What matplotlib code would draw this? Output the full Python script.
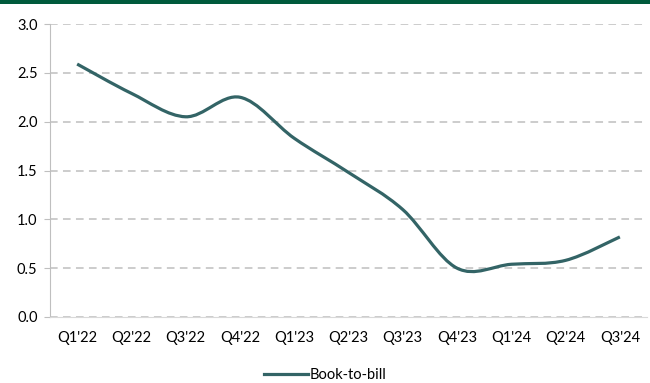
import matplotlib
matplotlib.use('Agg')
from matplotlib import pyplot as plt
from matplotlib.path import Path
from matplotlib.patches import PathPatch, Rectangle
from matplotlib.lines import Line2D
import numpy as np

# quarterly data
quarters = ["Q1'22", "Q2'22", "Q3'22", "Q4'22", "Q1'23", "Q2'23",
            "Q3'23", "Q4'23", "Q1'24", "Q2'24", "Q3'24"]
book_to_bill = [2.59, 2.29, 2.05, 2.25, 1.83, 1.48, 1.10, 0.50, 0.54, 0.58, 0.82]

line_color = '#336466'
plt.rcParams['font.family'] = ['Lato', 'DejaVu Sans']


def smooth_path(xs, ys, t=1/6):
    # cubic bezier through every point (catmull-rom style smoothing)
    pts = np.column_stack([xs, ys])
    n = len(pts)
    verts = [pts[0]]
    codes = [Path.MOVETO]
    for i in range(n - 1):
        p0 = pts[i - 1] if i > 0 else pts[i]
        p1, p2 = pts[i], pts[i + 1]
        p3 = pts[i + 2] if i + 2 < n else pts[i + 1]
        c1 = p1 + (p2 - p0) * t
        c2 = p2 - (p3 - p1) * t
        verts += [c1, c2, p2]
        codes += [Path.CURVE4] * 3
    return Path(verts, codes)


fig = plt.figure(figsize=(6.5, 3.83), dpi=100)
ax = fig.add_axes([50/650, 1 - 317/383, 597/650, 293/383])

x = np.arange(len(quarters))
ax.add_patch(PathPatch(smooth_path(x, book_to_bill), facecolor='none',
                       edgecolor=line_color, lw=2.3, capstyle='butt',
                       zorder=3))

ax.set_xlim(-0.5, len(quarters) - 0.5)
ax.set_ylim(0, 3.0)
ax.set_yticks(np.arange(0, 3.01, 0.5))
ax.set_yticklabels([f'{v:.1f}' for v in np.arange(0, 3.01, 0.5)])
ax.set_xticks(x)
ax.set_xticklabels(quarters)

ax.yaxis.grid(True, color='#bfbfbf', linestyle=(0, (5, 3.5)), lw=1.1)
ax.set_axisbelow(True)
for s in ['top', 'right']:
    ax.spines[s].set_visible(False)
ax.spines['left'].set_color('#bfbfbf')
ax.spines['bottom'].set_color('#d9d9d9')
ax.tick_params(axis='y', length=4, color='#bfbfbf', labelsize=10.5,
               labelcolor='#000000', pad=5)
ax.tick_params(axis='x', length=0, labelsize=10.5, labelcolor='#000000', pad=10)

# legend under the plot
handle = Line2D([], [], color=line_color, lw=2.3)
fig.legend([handle], ['Book-to-bill'], loc='center', frameon=False,
           bbox_to_anchor=(0.5, 1 - 375/383), fontsize=10.5,
           handlelength=3.0, handletextpad=0.1)

# green band along the top
fig.patches.append(Rectangle((0, 1 - 4/383), 1, 4/383, transform=fig.transFigure,
                             facecolor='#005a3c', edgecolor='none'))

fig.savefig('out.png', dpi=100)
